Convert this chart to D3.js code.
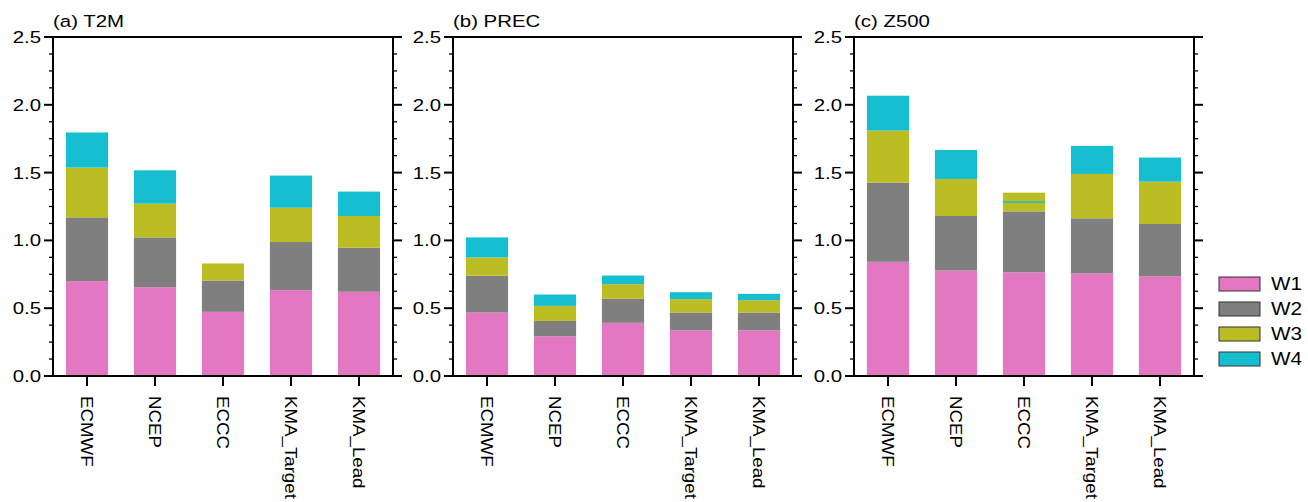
<!DOCTYPE html>
<html lang="en">
<head>
<meta charset="utf-8">
<title>Weekly stacked bars</title>
<script src="https://cdn.jsdelivr.net/npm/d3@7"></script>
<style>
  body { margin: 0; background: #fff; }
  text { font-family: "Liberation Sans", Arial, Helvetica, sans-serif; fill: #000; }
</style>
</head>
<body>
<script>
// models on the x axis, weeks stacked
var models = ['ECMWF', 'NCEP', 'ECCC', 'KMA_Target', 'KMA_Lead'];
var weeks = ['W1', 'W2', 'W3', 'W4'];
var weekColors = ['#e377c2', '#7f7f7f', '#bcbd22', '#17becf'];
var panelTitles = ['(a) T2M', '(b) PREC', '(c) Z500'];
var yTicks = [0, 0.5, 1.0, 1.5, 2.0, 2.5];

// contribution of each week, per model (W1..W4)
var t2m = [
  [0.700, 0.470, 0.367, 0.259],
  [0.655, 0.367, 0.249, 0.246],
  [0.473, 0.231, 0.126, 0.000],
  [0.633, 0.355, 0.253, 0.237],
  [0.621, 0.325, 0.234, 0.180]
];
var prec = [
  [0.468, 0.271, 0.135, 0.148],
  [0.293, 0.113, 0.111, 0.084],
  [0.392, 0.177, 0.108, 0.064],
  [0.337, 0.131, 0.099, 0.051],
  [0.337, 0.131, 0.091, 0.047]
];
var z500 = [
  [0.842, 0.584, 0.384, 0.257],
  [0.778, 0.402, 0.273, 0.214],
  [0.764, 0.450, 0.138, -0.069],
  [0.756, 0.407, 0.327, 0.207],
  [0.736, 0.385, 0.312, 0.178]
];
var panelData = [t2m, prec, z500];

var w = 1308, h = 502;
var svg = d3.select('body').append('svg').attr('width', w).attr('height', h);

var panelLeft = [53, 453, 854];
var pw = 340;
var plotTop = 37, plotBottom = 376;

var yScale = d3.scaleLinear().domain([0, 2.5]).range([plotBottom, plotTop]);
var minorTicks = d3.range(0, 2.5001, 0.125);

panelLeft.forEach(function(left, p) {
  var xScale = d3.scaleBand().domain(models).range([left, left + pw])
                 .paddingInner(0.38).paddingOuter(0.19);
  var g = svg.append('g');

  // stacked bars
  panelData[p].forEach(function(vals, m) {
    var cum = 0;
    vals.forEach(function(v, k) {
      var prev = cum;
      cum += v;
      if (v >= 0) {
        g.append('rect')
          .attr('x', xScale(models[m]))
          .attr('width', xScale.bandwidth())
          .attr('y', yScale(cum))
          .attr('height', yScale(prev) - yScale(cum))
          .attr('fill', weekColors[k]);
      } else {
        // negative week: only its total shows as a thin line
        g.append('line')
          .attr('x1', xScale(models[m])).attr('x2', xScale(models[m]) + xScale.bandwidth())
          .attr('y1', yScale(cum)).attr('y2', yScale(cum))
          .attr('stroke', weekColors[k]).attr('stroke-width', 1.5);
      }
    });
  });

  // frame
  g.append('rect')
    .attr('x', left).attr('y', plotTop).attr('width', pw).attr('height', plotBottom - plotTop)
    .attr('fill', 'none').attr('stroke', '#000').attr('stroke-width', 2);

  // y ticks, both sides, outward
  var tickG = g.append('g').attr('stroke', '#000');
  minorTicks.forEach(function(t) {
    var major = Math.abs(t * 2 - Math.round(t * 2)) < 1e-6;
    var len = major ? 9 : 4;
    tickG.append('line').attr('x1', left - len).attr('x2', left)
      .attr('y1', yScale(t)).attr('y2', yScale(t)).attr('stroke-width', major ? 2 : 1.3);
    tickG.append('line').attr('x1', left + pw).attr('x2', left + pw + len)
      .attr('y1', yScale(t)).attr('y2', yScale(t)).attr('stroke-width', major ? 2 : 1.3);
  });

  // y labels on the left
  yTicks.forEach(function(t) {
    g.append('text')
      .attr('transform', 'translate(' + (left - 12) + ',' + (yScale(t) + 6) + ') scale(1.2,1)')
      .attr('text-anchor', 'end')
      .attr('font-size', 17)
      .text(d3.format('.1f')(t));
  });

  // x ticks and rotated labels
  models.forEach(function(m) {
    var cx = xScale(m) + xScale.bandwidth() / 2;
    tickG.append('line').attr('x1', cx).attr('x2', cx)
      .attr('y1', plotBottom).attr('y2', plotBottom + 10).attr('stroke-width', 2);
    g.append('text')
      .attr('transform', 'translate(' + cx + ',' + (plotBottom + 20) + ') rotate(90) scale(1.1,1)')
      .attr('dy', '0.35em')
      .attr('font-size', 17)
      .text(m);
  });

  g.append('text')
    .attr('transform', 'translate(' + left + ',' + (plotTop - 10) + ') scale(1.2,1)')
    .attr('font-size', 17)
    .text(panelTitles[p]);
});

// legend
var legend = svg.append('g').attr('transform', 'translate(1219,277)');
weeks.forEach(function(wk, i) {
  legend.append('rect')
    .attr('x', 0).attr('y', i * 25).attr('width', 41).attr('height', 14)
    .attr('fill', weekColors[i]).attr('stroke', '#333').attr('stroke-width', 1);
  legend.append('text')
    .attr('transform', 'translate(52,' + (i * 25 + 13) + ') scale(1.15,1)')
    .attr('font-size', 18)
    .text(wk);
});
</script>
</body>
</html>
